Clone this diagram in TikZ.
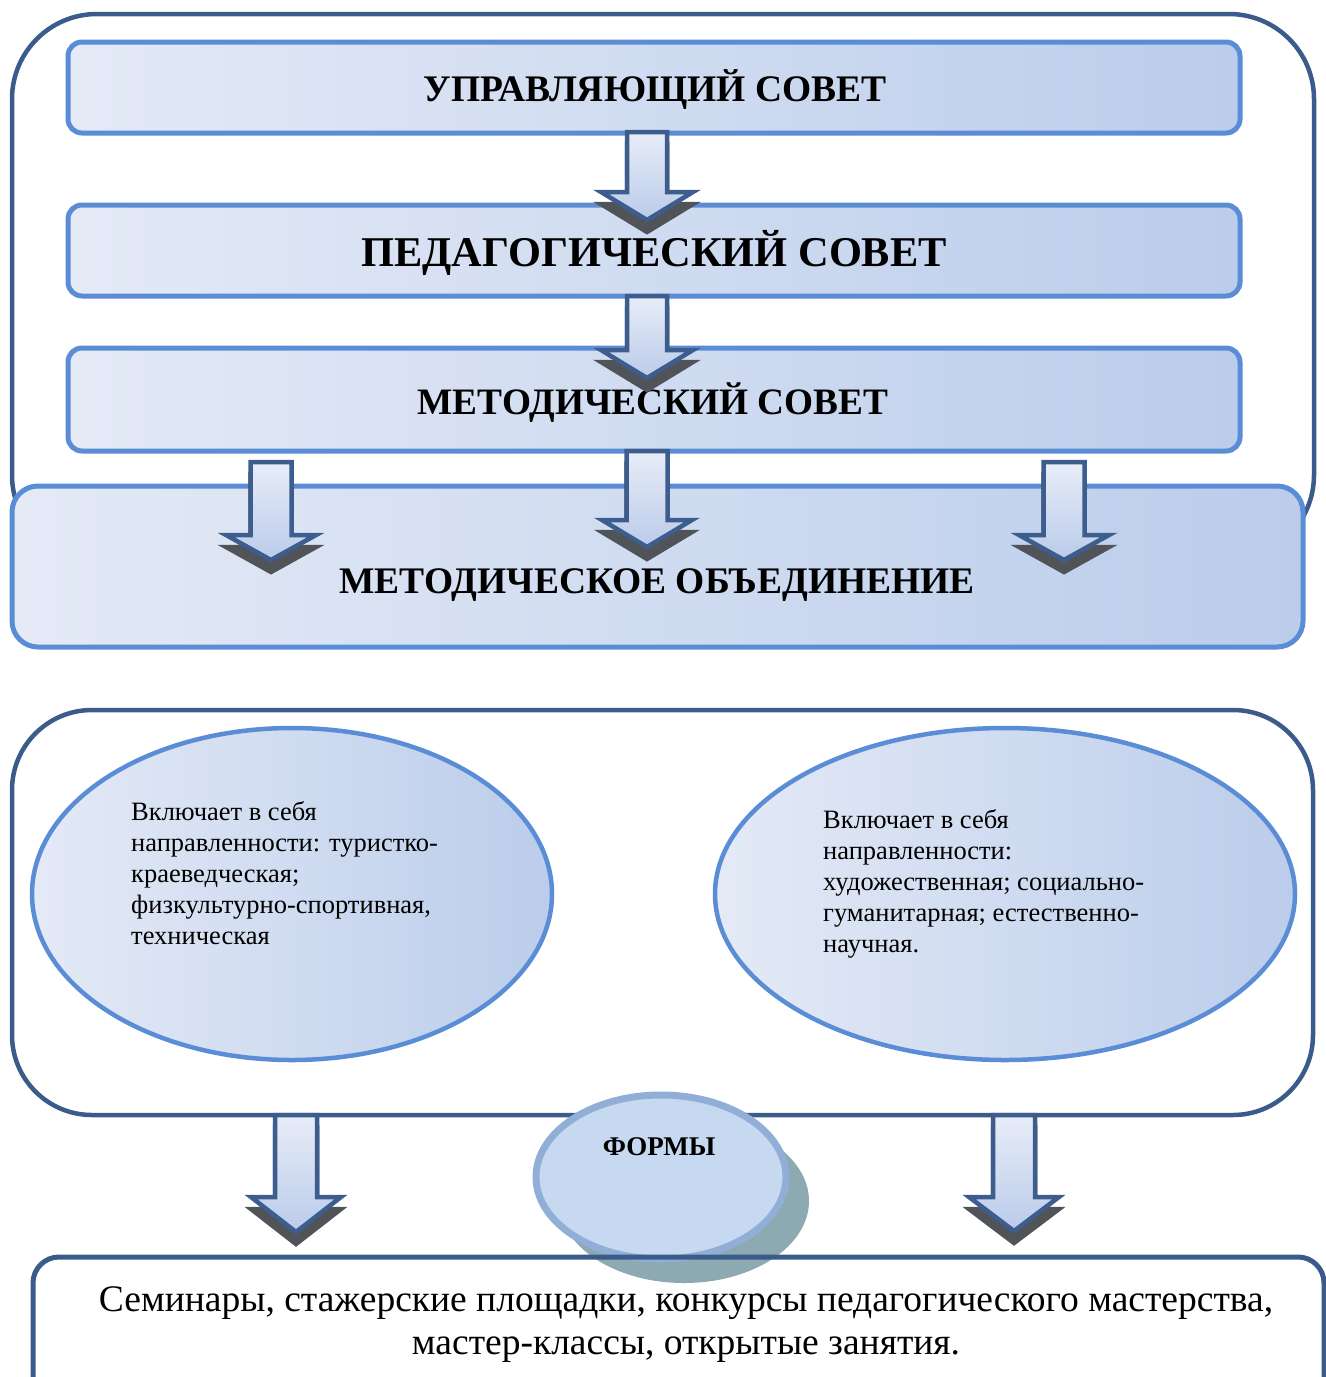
\documentclass[tikz,border=0pt]{standalone}
\usepackage{fontspec}
\setmainfont{Liberation Serif}
\usetikzlibrary{shapes.geometric}
\definecolor{frameblue}{HTML}{3B5B8A}
\definecolor{barblue}{HTML}{5A8DD5}
\definecolor{gradL}{HTML}{E4EAF6}
\definecolor{gradR}{HTML}{BBCDEB}
\definecolor{arrblue}{HTML}{3C5D8E}
\definecolor{arrT}{HTML}{E8EDF8}
\definecolor{arrB}{HTML}{BACBEA}
\definecolor{shadowgray}{HTML}{505459}
\definecolor{formfill}{HTML}{C6D9F1}
\definecolor{formdraw}{HTML}{91AFD6}
\definecolor{formshadow}{HTML}{8DA9B1}
\tikzset{
  frame/.style={draw=frameblue, line width=4.5pt},
  bar/.style={draw=barblue, line width=5pt, left color=gradL, right color=gradR},
  arr/.style={draw=arrblue, line width=4.5pt, top color=arrT, bottom color=arrB, line join=miter},
  arrsh/.style={fill=shadowgray, draw=shadowgray, line width=4.5pt, line join=miter},
  ttl/.style={font=\bfseries\fontsize{37.5}{42}\selectfont},
  oval/.style={draw=barblue, line width=4.5pt, left color=gradL, right color=gradR, ellipse},
  otext/.style={font=\fontsize{26.5}{31}\selectfont, align=left, inner sep=0pt, anchor=north west},
}
\newcommand\myblockarrow[6]{%
  \filldraw[arrsh] ({#1-#5},{#2+12}) -- ({#1+#5},{#2+12}) -- ({#1+#5},{#3+12}) -- ({#1+#6},{#3+12}) -- ({#1},{#4+12}) -- ({#1-#6},{#3+12}) -- ({#1-#5},{#3+12}) -- cycle;
  \draw[arr] ({#1-#5},{#2}) -- ({#1+#5},{#2}) -- ({#1+#5},{#3}) -- ({#1+#6},{#3}) -- ({#1},{#4}) -- ({#1-#6},{#3}) -- ({#1-#5},{#3}) -- cycle;
}
\begin{document}
\begin{tikzpicture}[x=1pt,y=-1pt]
\useasboundingbox (0,0) rectangle (1326,1377);
\clip (0,0) rectangle (1326,1377);
% top frame
\draw[frame, rounded corners=85pt] (12,14) rectangle (1314,560);
% bars
\node[bar, rounded corners=14pt, minimum width=1172pt, minimum height=91pt] (upr) at (654,87.5) {};
\node[ttl] (uprt) at (655,90) {УПРАВЛЯЮЩИЙ СОВЕТ};
\node[bar, rounded corners=14pt, minimum width=1172pt, minimum height=91pt] (ped) at (654,250.5) {};
\node[ttl, font=\bfseries\fontsize{42.4}{46}\selectfont] (pedt) at (654,253) {ПЕДАГОГИЧЕСКИЙ СОВЕТ};
\node[bar, rounded corners=14pt, minimum width=1172pt, minimum height=103pt] (met) at (654,399.5) {};
\node[ttl, font=\bfseries\fontsize{37.3}{42}\selectfont] (mett) at (653,403) {МЕТОДИЧЕСКИЙ СОВЕТ};
\node[bar, rounded corners=26pt, minimum width=1291pt, minimum height=161pt] (mo) at (657.5,566.5) {};
\node[ttl] (mot) at (657,585) {МЕТОДИЧЕСКОЕ ОБЪЕДИНЕНИЕ};
% arrows
\myblockarrow{647}{132}{192}{220}{20}{46}
\myblockarrow{647}{296}{350}{378}{20}{46}
\myblockarrow{271}{462}{535}{560}{20.5}{45}
\myblockarrow{647}{451}{520}{547}{20.5}{45}
\myblockarrow{1064}{462}{535}{560}{20.5}{45}
% lower frame
\draw[frame, rounded corners=80pt] (12,710) rectangle (1313,1115);
\node[oval, minimum width=520pt, minimum height=332pt] (el1) at (292,894) {};
\node[oval, minimum width=580pt, minimum height=332pt] (el2) at (1005,894) {};
\node[otext] (tx1) at (131,801) {Включает в себя\\направленности: туристко-\\краеведческая;\\физкультурно-спортивная,\\техническая};
\node[otext] (tx2) at (823,809) {Включает в себя\\направленности:\\художественная; социально-\\гуманитарная; естественно-\\научная.};
% bottom arrows
\myblockarrow{296}{1115}{1197}{1232}{21}{45}
\myblockarrow{1014}{1115}{1197}{1231}{21}{45}
% forms
\fill[formshadow] (684,1201) ellipse [x radius=125, y radius=82];
\node[ellipse, fill=formfill, draw=formdraw, line width=7pt, minimum width=250pt, minimum height=164pt] (forms) at (661,1177) {};
\node[font=\bfseries\fontsize{27}{30}\selectfont] (formt) at (659,1147) {ФОРМЫ};
% bottom box
\draw[frame, line width=5pt, rounded corners=26pt] (33,1257) rectangle (1324,1430);
\node[font=\fontsize{37.5}{43}\selectfont, align=center] (bt) at (686,1325) {Семинары, стажерские площадки, конкурсы педагогического мастерства,\\мастер-классы, открытые занятия.};
\end{tikzpicture}
\end{document}
